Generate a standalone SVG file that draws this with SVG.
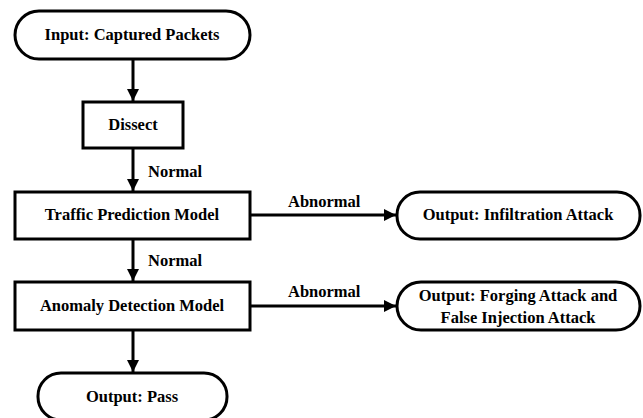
<svg xmlns="http://www.w3.org/2000/svg" width="643" height="418" viewBox="0 0 643 418">
<defs>
<marker id="ah" viewBox="0 0 10 10" refX="10" refY="5" markerWidth="4" markerHeight="4" orient="auto" markerUnits="strokeWidth">
<path d="M0,0 L10,5 L0,10 z" fill="#000"/>
</marker>
<style>
.n{fill:#fff;stroke:#000;stroke-width:3}
.c{stroke:#000;stroke-width:3;fill:none;marker-end:url(#ah)}
</style>
</defs>
<rect width="643" height="418" fill="#fff"/>
<g id="connectors">
<line class="c" x1="133" y1="59" x2="133" y2="101"/>
<line class="c" x1="133" y1="148" x2="133" y2="191"/>
<line class="c" x1="133" y1="239" x2="133" y2="281"/>
<line class="c" x1="133" y1="330" x2="133" y2="372"/>
<line class="c" x1="250" y1="215" x2="396" y2="215"/>
<line class="c" x1="250" y1="306" x2="396" y2="306"/>
<text x="148" y="177" font-family="Liberation Serif" font-weight="bold" font-size="16.5">Normal</text>
<text x="148" y="266" font-family="Liberation Serif" font-weight="bold" font-size="16.5">Normal</text>
<text x="288" y="207" font-family="Liberation Serif" font-weight="bold" font-size="16.5">Abnormal</text>
<text x="288" y="297" font-family="Liberation Serif" font-weight="bold" font-size="16.5">Abnormal</text>
</g>
<g id="input">
<rect class="n" x="15" y="11" width="235" height="48" rx="24"/>
<text x="132" y="40" text-anchor="middle" font-family="Liberation Serif" font-weight="bold" font-size="16.5">Input: Captured Packets</text>
</g>
<g id="dissect">
<rect class="n" x="83" y="102" width="100" height="46"/>
<text x="133" y="130" text-anchor="middle" font-family="Liberation Serif" font-weight="bold" font-size="16.5">Dissect</text>
</g>
<g id="traffic">
<rect class="n" x="15" y="192" width="235" height="47"/>
<text x="132" y="220" text-anchor="middle" font-family="Liberation Serif" font-weight="bold" font-size="16.5">Traffic Prediction Model</text>
</g>
<g id="anomaly">
<rect class="n" x="15" y="282" width="235" height="48"/>
<text x="132" y="311" text-anchor="middle" font-family="Liberation Serif" font-weight="bold" font-size="16.5">Anomaly Detection Model</text>
</g>
<g id="pass">
<rect class="n" x="38" y="373" width="189" height="47" rx="23"/>
<text x="132" y="402" text-anchor="middle" font-family="Liberation Serif" font-weight="bold" font-size="16.5">Output: Pass</text>
</g>
<g id="infiltration">
<rect class="n" x="397" y="192" width="243" height="47" rx="23"/>
<text x="518" y="220" text-anchor="middle" font-family="Liberation Serif" font-weight="bold" font-size="16.5">Output: Infiltration Attack</text>
</g>
<g id="forging">
<rect class="n" x="397" y="282" width="243" height="48" rx="24"/>
<text x="518" y="301" text-anchor="middle" font-family="Liberation Serif" font-weight="bold" font-size="16.5">Output: Forging Attack and</text>
<text x="518" y="323" text-anchor="middle" font-family="Liberation Serif" font-weight="bold" font-size="16.5">False Injection Attack</text>
</g>
</svg>
